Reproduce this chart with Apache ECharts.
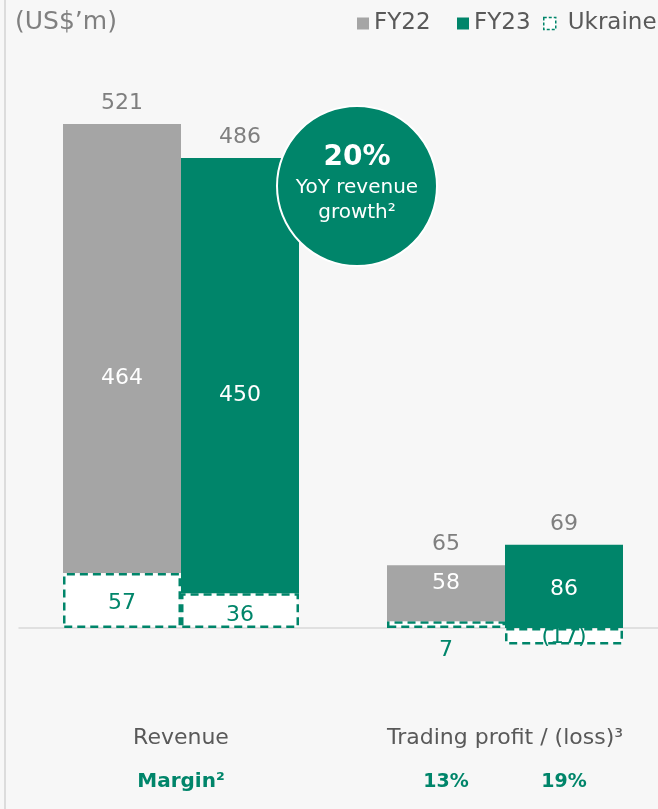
<!DOCTYPE html>
<html>
<head>
<meta charset="utf-8">
<script src="https://cdn.jsdelivr.net/npm/echarts@6/dist/echarts.min.js"></script>
<style>
  html, body { margin: 0; padding: 0; background: #f7f7f7; }
  #chart { width: 658px; height: 809px; }
</style>
</head>
<body>
<div id="chart"></div>
<script>
// Revenue and trading profit, US$ millions, split into core business and Ukraine
const categories = ['Revenue', 'Trading profit / (loss)³'];
const fy22Core = [464, 58];
const fy22Ukraine = [57, 7];
const fy22Total = [521, 65];
const fy23Core = [450, 86];
const fy23Ukraine = [36, -17];
const fy23Total = [486, 69];
const marginTitle = 'Margin²';
const tradingMargins = ['13%', '19%'];
const growthValue = '20%';
const growthLines = ['YoY revenue', 'growth²'];
const unitLabel = '(US$’m)';

const GREEN = '#00856a';
const GRAY = '#a5a5a5';
const TEXT = '#595959';
const FONT = 'DejaVu Sans';
const BAR_W = 118;
const DASH = [8, 5];

const fmt = v => (v < 0 ? '(' + (-v) + ')' : String(v));

function ukraineSeries(stack, values, itemLabels) {
  return {
    name: 'Ukraine', type: 'bar', stack: stack, barWidth: BAR_W, barGap: '0%',
    itemStyle: { color: '#ffffff', borderColor: GREEN, borderWidth: 2.5, borderType: DASH },
    label: { show: true, color: GREEN, fontSize: 22, fontFamily: FONT, formatter: p => fmt(p.value) },
    data: values.map((v, i) => ({ value: v, label: itemLabels[i] }))
  };
}

function coreSeries(name, stack, color, values, offsets) {
  return {
    name: name, type: 'bar', stack: stack, barWidth: BAR_W, barGap: '0%',
    itemStyle: { color: color },
    label: { show: true, position: 'inside', color: '#ffffff', fontSize: 22, fontFamily: FONT },
    data: values.map((v, i) => ({ value: v, label: { offset: [0, offsets[i]] } }))
  };
}

function totalSeries(name, stack, totals) {
  // zero-height bar sitting on top of the stack; it only carries the total label
  return {
    name: name, type: 'bar', stack: stack, barWidth: BAR_W, barGap: '0%',
    itemStyle: { color: 'transparent' },
    label: {
      show: true, position: 'top', distance: 10, color: '#7f7f7f', fontSize: 22, fontFamily: FONT,
      formatter: p => String(totals[p.dataIndex])
    },
    data: totals.map(() => 0)
  };
}

const chart = echarts.init(document.getElementById('chart'), null, { renderer: 'canvas' });

const legendBase = {
  top: 12, padding: 0, icon: 'rect', itemWidth: 12, itemHeight: 12,
  selectedMode: false,
  textStyle: { fontSize: 23, color: TEXT, fontFamily: FONT }
};

chart.setOption({
  animation: false,
  backgroundColor: '#f7f7f7',
  textStyle: { fontFamily: FONT },
  grid: { left: 19, width: 648, top: 47.6, height: 628.8, outerBoundsMode: 'none', containLabel: false },
  legend: [
    Object.assign({}, legendBase, { left: 357, data: ['FY22'] }),
    Object.assign({}, legendBase, { left: 457, data: ['FY23'] }),
    Object.assign({}, legendBase, {
      left: 543, data: ['Ukraine'],
      itemStyle: { borderWidth: 1.5, borderType: [3, 2] },
      textStyle: { fontSize: 23, color: TEXT, fontFamily: FONT, padding: [0, 0, 0, 7] }
    })
  ],
  xAxis: {
    type: 'category', data: categories,
    axisLine: { onZero: true, lineStyle: { color: '#d9d9d9', width: 1.5 } },
    axisTick: { show: false },
    axisLabel: { margin: 51, fontSize: 22, color: TEXT, fontFamily: FONT }
  },
  yAxis: { type: 'value', min: -50, max: 600, show: false, splitLine: { show: false } },
  series: [
    ukraineSeries('fy22', fy22Ukraine, [
      { position: 'inside', offset: [0, 3] },
      { position: 'bottom', distance: 11 }
    ]),
    coreSeries('FY22', 'fy22', GRAY, fy22Core, [30, -10]),
    totalSeries('FY22 total', 'fy22', fy22Total),
    ukraineSeries('fy23', fy23Ukraine, [
      { position: 'inside', offset: [0, 5] },
      { position: 'inside', offset: [0, 1] }
    ]),
    coreSeries('FY23', 'fy23', GREEN, fy23Core, [20, 3]),
    totalSeries('FY23 total', 'fy23', fy23Total)
  ]
});

// annotations: unit label, growth badge and margin row under the axis
const revX = chart.convertToPixel({ xAxisIndex: 0 }, categories[0]);
const tpX = chart.convertToPixel({ xAxisIndex: 0 }, categories[1]);
const marginY = 782;

chart.setOption({
  graphic: [
    { type: 'line', shape: { x1: 5, y1: 0, x2: 5, y2: 809 }, style: { stroke: '#dcdcdc', lineWidth: 2 }, silent: true },
    { type: 'text', left: 15, top: 10, style: { text: unitLabel, fill: '#808080', font: '25px "DejaVu Sans"' } },
    {
      type: 'group', x: 357, y: 186, z: 100,
      children: [
        { type: 'circle', z: 100, shape: { cx: 0, cy: 0, r: 80 }, style: { fill: GREEN, stroke: '#ffffff', lineWidth: 2 } },
        { type: 'text', z: 101, x: 0, y: -28, style: { text: growthValue, fill: '#ffffff', font: 'bold 28px "DejaVu Sans"', textAlign: 'center', textVerticalAlign: 'middle' } },
        { type: 'text', z: 101, x: 0, y: 2, style: { text: growthLines[0], fill: '#ffffff', font: '20px "DejaVu Sans"', textAlign: 'center', textVerticalAlign: 'middle' } },
        { type: 'text', z: 101, x: 0, y: 27, style: { text: growthLines[1], fill: '#ffffff', font: '20px "DejaVu Sans"', textAlign: 'center', textVerticalAlign: 'middle' } }
      ]
    },
    { type: 'text', x: revX, y: marginY, style: { text: marginTitle, fill: GREEN, font: 'bold 20px "DejaVu Sans"', textAlign: 'center', textVerticalAlign: 'middle' } },
    { type: 'text', x: tpX - BAR_W / 2, y: marginY, style: { text: tradingMargins[0], fill: GREEN, font: 'bold 19px "DejaVu Sans"', textAlign: 'center', textVerticalAlign: 'middle' } },
    { type: 'text', x: tpX + BAR_W / 2, y: marginY, style: { text: tradingMargins[1], fill: GREEN, font: 'bold 19px "DejaVu Sans"', textAlign: 'center', textVerticalAlign: 'middle' } }
  ]
});
</script>
</body>
</html>
